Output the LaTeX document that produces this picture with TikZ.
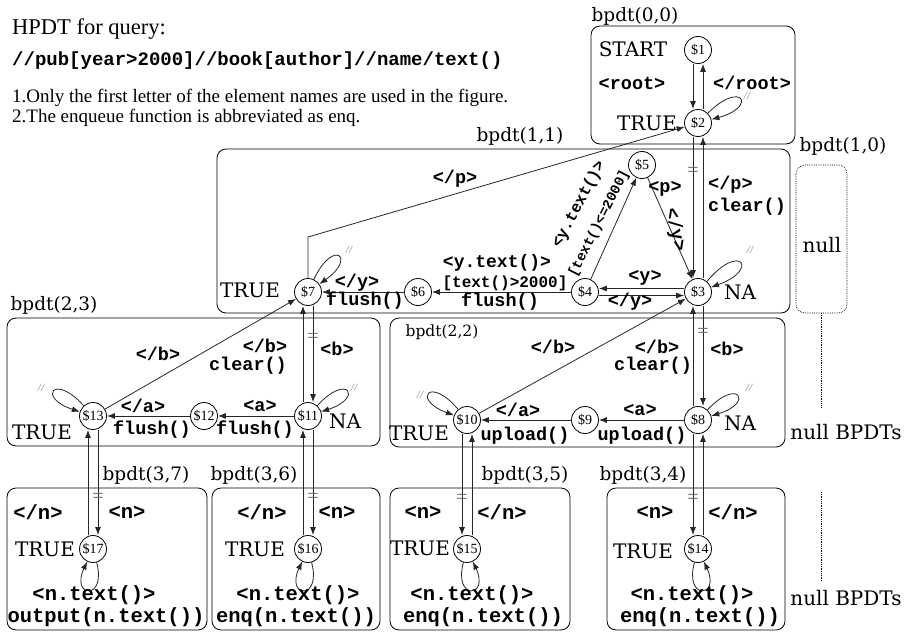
\documentclass[tikz,border=0pt]{standalone}
\usepackage{fontspec}
\newfontfamily\tms{Liberation Serif}
\newfontfamily\crb{Liberation Mono}
\newfontfamily\djs{DejaVu Serif}
\usetikzlibrary{arrows.meta}
\tikzset{
 st/.style={circle,draw,line width=0.8pt,inner sep=0pt,minimum size=27pt,font=\tms\fontsize{14}{14}\selectfont},
 cb/.style={font=\crb\bfseries\fontsize{18.5}{18.5}\selectfont, inner sep=0pt},
 cbb/.style={font=\crb\bfseries\fontsize{20.5}{20.5}\selectfont, inner sep=0pt},
 sr/.style={font=\djs\fontsize{20}{20}\selectfont, inner sep=0pt},
 bl/.style={font=\djs\fontsize{18.5}{18.5}\selectfont, inner sep=0pt},
 arr/.style={-{Latex[length=8pt,width=6pt]}, line width=0.8pt, black!85},
 eqm/.style={font=\tms\fontsize{20}{20}\selectfont, text=black!60, inner sep=0pt},
 sl/.style={font=\tms\itshape\fontsize{11}{11}\selectfont, text=gray, inner sep=0pt},
 bx/.style={draw, rounded corners=9pt, line width=0.8pt},
}
\begin{document}
\begin{tikzpicture}[x=1pt,y=-1pt]
\useasboundingbox (0,0) rectangle (904,634);
% header texts
\node[anchor=west, font=\tms\fontsize{22.5}{22.5}\selectfont, inner sep=0] (title) at (12,29) {HPDT for query:};
\node[anchor=west, font=\crb\bfseries\fontsize{19}{19}\selectfont, inner sep=0] (query) at (12,61) {//pub[year>2000]//book[author]//name/text()};
\node[anchor=north west, font=\tms\fontsize{19}{20}\selectfont, inner sep=0, align=left] (notes) at (12,89) {1.Only the first letter of the element names are used in the figure.\\2.The enqueue function is abbreviated as enq.};
% boxes
\draw[bx] (591,26) rectangle (795,144);
\draw[bx] (217,149) rectangle (790,313);
\draw[bx, densely dotted, line width=0.6pt] (796,165) rectangle (847,313);
\draw[bx] (7,318) rectangle (380,446);
\draw[bx] (390,318) rectangle (785,447);
\draw[bx] (7,488) rectangle (207,630);
\draw[bx] (212,488) rectangle (380,630);
\draw[bx] (390,488) rectangle (570,630);
\draw[bx] (607,488) rectangle (785,630);
\draw[densely dotted, line width=0.8pt] (821,313) -- (821,408);
\draw[densely dotted, line width=0.8pt] (821,492) -- (821,582);
% box labels
\node[bl] (l00) at (635,16) {bpdt(0,0)};
\node[bl] (l11) at (520,136) {bpdt(1,1)};
\node[bl] (l10) at (843,146) {bpdt(1,0)};
\node[bl] (l23) at (54,305) {bpdt(2,3)};
\node[bl, font=\djs\fontsize{15.5}{15.5}\selectfont] (l22) at (442,332) {bpdt(2,2)};
\node[bl] (l37) at (146,475) {bpdt(3,7)};
\node[bl] (l36) at (254,475) {bpdt(3,6)};
\node[bl] (l35) at (525,475) {bpdt(3,5)};
\node[bl] (l34) at (643,475) {bpdt(3,4)};
\node[sr] (null) at (822,245) {null};
\node[sr] (nb1) at (846,432) {null BPDTs};
\node[sr] (nb2) at (846,598) {null BPDTs};
% states
\node[st] (s1) at (698,50) {\$1};
\node[st] (s2) at (698,123) {\$2};
\node[st] (s5) at (642,165) {\$5};
\node[st] (s3) at (698,292) {\$3};
\node[st] (s4) at (585,292) {\$4};
\node[st] (s6) at (418,292) {\$6};
\node[st] (s7) at (308,292) {\$7};
\node[st] (s13) at (93,416) {\$13};
\node[st] (s12) at (204,416) {\$12};
\node[st] (s11) at (308,416) {\$11};
\node[st] (s10) at (467,420) {\$10};
\node[st] (s9) at (585,420) {\$9};
\node[st] (s8) at (698,420) {\$8};
\node[st] (s17) at (93,549) {\$17};
\node[st] (s16) at (308,549) {\$16};
\node[st] (s15) at (467,549) {\$15};
\node[st] (s14) at (698,549) {\$14};
% state captions
\node[sr] (tstart) at (633,49) {START};
\node[sr] (t2) at (647,123) {TRUE};
\node[sr] (t7) at (250,290) {TRUE};
\node[sr] (na3) at (740,292) {NA};
\node[sr] (t13) at (42,432) {TRUE};
\node[sr] (na11) at (345,421) {NA};
\node[sr] (t10) at (419,433) {TRUE};
\node[sr] (na8) at (740,423) {NA};
\node[sr] (t17) at (45,549) {TRUE};
\node[sr] (t16) at (255,549) {TRUE};
\node[sr] (t15) at (420,548) {TRUE};
\node[sr] (t14) at (643,551) {TRUE};
% vertical pairs
\draw[arr] ([xshift=-5pt]s1.south) -- ([xshift=-5pt]s2.north);
\draw[arr] ([xshift=5pt]s2.north) -- ([xshift=5pt]s1.south);
\draw[arr] ([xshift=-5pt]s2.south) -- node[eqm,pos=0.25]{=} ([xshift=-5pt]s3.north);
\draw[arr] ([xshift=5pt]s3.north) -- ([xshift=5pt]s2.south);
\draw[arr] ([xshift=-5pt]s8.north) -- ([xshift=-5pt]s3.south);
\draw[arr] ([xshift=5pt]s3.south) -- node[eqm,pos=0.27]{=} ([xshift=5pt]s8.north);
\draw[arr] ([xshift=-5pt]s8.south) -- node[eqm,pos=0.64]{=} ([xshift=-5pt]s14.north);
\draw[arr] ([xshift=5pt]s14.north) -- ([xshift=5pt]s8.south);
\draw[arr] ([xshift=-5pt]s11.north) -- ([xshift=-5pt]s7.south);
\draw[arr] ([xshift=5pt]s7.south) -- node[eqm,pos=0.33]{=} ([xshift=5pt]s11.north);
\draw[arr] ([xshift=-5pt]s16.north) -- ([xshift=-5pt]s11.south);
\draw[arr] ([xshift=5pt]s11.south) -- node[eqm,pos=0.65]{=} ([xshift=5pt]s16.north);
\draw[arr] ([xshift=-5pt]s17.north) -- ([xshift=-5pt]s13.south);
\draw[arr] ([xshift=5pt]s13.south) -- node[eqm,pos=0.65]{=} ([xshift=5pt]s17.north);
\draw[arr] ([xshift=-5pt]s10.south) -- node[eqm,pos=0.64]{=} ([xshift=-5pt]s15.north);
\draw[arr] ([xshift=5pt]s15.north) -- ([xshift=5pt]s10.south);
% horizontal
\draw[arr] (s4) -- (s6);
\draw[arr] (s6) -- (s7);
\draw[arr] ([yshift=3.5pt]s3.west) -- ([yshift=3.5pt]s4.east);
\draw[arr] ([yshift=-3.5pt]s4.east) -- ([yshift=-3.5pt]s3.west);
\draw[arr] (s11) -- (s12);
\draw[arr] (s12) -- (s13);
\draw[arr] (s8) -- (s9);
\draw[arr] (s9) -- (s10);
% diagonals
\draw[arr] (s4) -- (s5);
\draw[arr] (s5) -- (s3);
\draw[arr] (s13) -- (s7);
\draw[arr] (s10) -- (s3);
\coordinate (k7) at (308,237);
\draw[arr] (s7) -- (k7) -- (s2);
% loops
\draw[arr] (s2) to[out=45,in=15,distance=48pt] (s2);
\draw[arr] (s3) to[out=50,in=20,distance=52pt] (s3);
\draw[arr] (s7) to[out=65,in=35,distance=46pt] (s7);
\draw[arr] (s11) to[out=48,in=18,distance=45pt] (s11);
\draw[arr] (s8) to[out=47,in=17,distance=45pt] (s8);
\draw[arr] (s13) to[out=132,in=162,distance=45pt] (s13);
\draw[arr] (s10) to[out=130,in=160,distance=45pt] (s10);
\draw[arr] (s17) to[out=-75,in=-115,distance=40pt] (s17);
\draw[arr] (s16) to[out=-75,in=-115,distance=40pt] (s16);
\draw[arr] (s15) to[out=-105,in=-65,distance=40pt] (s15);
\draw[arr] (s14) to[out=-105,in=-65,distance=40pt] (s14);
% slashes
\node[sl] at (747,96) {//};
\node[sl] at (750,250) {//};
\node[sl] at (349,250) {//};
\node[sl] at (354,388) {//};
\node[sl] at (749,388) {//};
\node[sl] at (41,388) {//};
\node[sl] at (420,395) {//};
% edge labels
\node[cb] at (632,83) {<root>};
\node[cb] at (752,83) {</root>};
\node[cb] at (455,179) {</p>};
\node[cb] at (665,189) {<p>};
\node[cb, rotate=-78] at (675,230) {</y>};
\node[cb, anchor=west] at (708,185) {</p>};
\node[cb, anchor=west] at (708,207) {clear()};
\node[cb, font=\crb\bfseries\fontsize{18}{18}\selectfont] at (497,263) {<y.text()>};
\node[cb, font=\crb\bfseries\fontsize{16}{16}\selectfont] at (505,283) {[text()>2000]};
\node[cb] at (500,302) {flush()};
\node[cb] at (357,283) {</y>};
\node[cb] at (365,301) {flush()};
\node[cb] at (645,278) {<y>};
\node[cb] at (630,302) {</y>};
\node[cb, font=\crb\bfseries\fontsize{16}{16}\selectfont, rotate=62] at (579,204.5) {<y.text()>};
\node[cb, font=\crb\bfseries\fontsize{14}{14}\selectfont, rotate=63] at (599,223.5) {[text()<=2000]};
% bpdt(2,3)
\node[cb] at (158,354) {</b>};
\node[cb] at (265,346) {</b>};
\node[cb] at (248,366) {clear()};
\node[cb] at (337,349) {<b>};
\node[cb] at (143,406) {</a>};
\node[cb] at (152,430) {flush()};
\node[cb] at (260,406) {<a>};
\node[cb] at (255,430) {flush()};
% bpdt(2,2)
\node[cb] at (553,347) {</b>};
\node[cb] at (657,347) {</b>};
\node[cb] at (653,366) {clear()};
\node[cb] at (727,349) {<b>};
\node[cb] at (518,410) {</a>};
\node[cb] at (525,436) {upload()};
\node[cb] at (640,410) {<a>};
\node[cb] at (642,436) {upload()};
% bottom
\node[cbb] at (38,512) {</n>};
\node[cbb] at (127,512) {<n>};
\node[cbb] at (262,512) {</n>};
\node[cbb] at (337,512) {<n>};
\node[cbb] at (423,512) {<n>};
\node[cbb] at (502,512) {</n>};
\node[cbb] at (655,512) {<n>};
\node[cbb] at (733,512) {</n>};
\node[cbb] at (94,595) {<n.text()>};
\node[cbb] at (106,617) {output(n.text())};
\node[cbb] at (298,595) {<n.text()>};
\node[cbb] at (296,617) {enq(n.text())};
\node[cbb] at (472,595) {<n.text()>};
\node[cbb] at (483,617) {enq(n.text())};
\node[cbb] at (692,595) {<n.text()>};
\node[cbb] at (700,617) {enq(n.text())};
\end{tikzpicture}
\end{document}
